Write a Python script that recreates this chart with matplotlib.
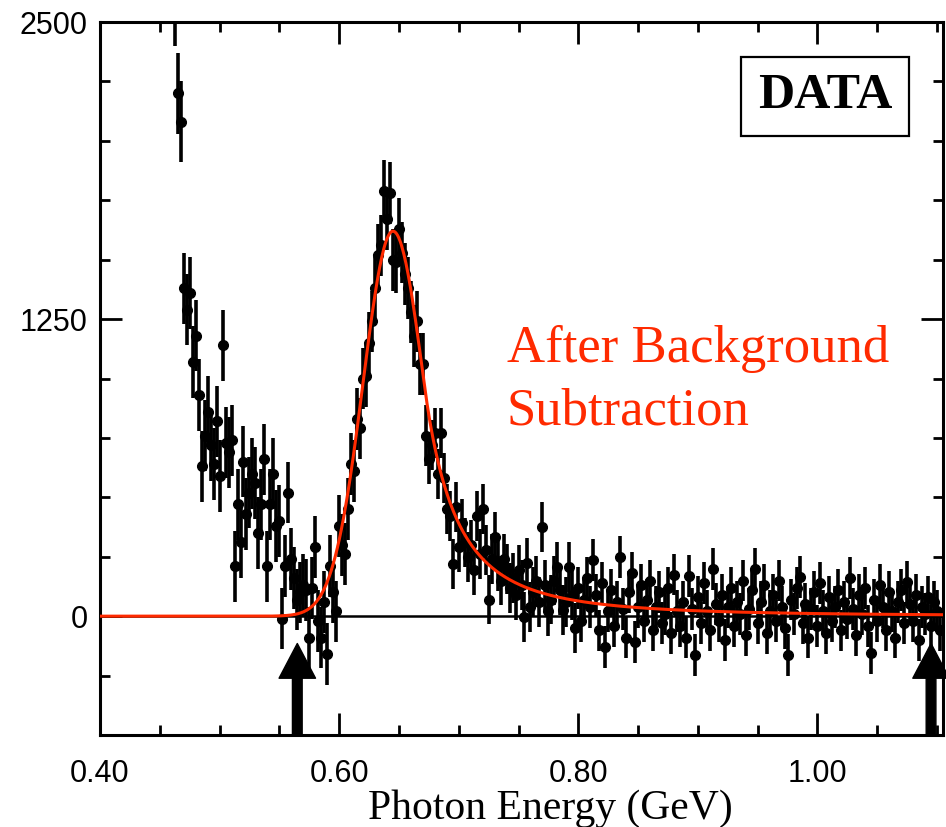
import numpy as np
import matplotlib
matplotlib.use("Agg")
import matplotlib.pyplot as plt
from matplotlib.ticker import MultipleLocator, FixedLocator

# bin centres (2.5 MeV bins)
x_start = 0.4625
x_step = 0.0025

# background-subtracted counts per bin
counts = [
    2650, 2200, 2080, 1380, 1290, 1360, 1070, 1180, 930, 630,
    760, 860, 720, 640, 820, 590, 1140, 730, 690, 740,
    210, 470, 310, 650, 430, 520, 600, 560, 350, 470,
    660, 210, 470, 600, 380, 400, -10, 210, 520, 240,
    160, 70, 100, 130, 110, -90, 120, 290, -20, -90,
    60, -160, 210, 100, 20, 380,
    300, 260, 450, 640, 610, 830, 790, 1000, 1010, 1150,
    1240, 1380, 1520, 1560, 1790, 1670, 1780, 1500, 1490, 1630,
    1530, 1440, 1380, 1280, 1180, 1240, 1060, 1060, 760, 660,
    720, 770, 600, 770, 580, 450, 420, 220, 460, 290,
    390, 310, 250, 300, 195, 420, 260, 450, 280, 70,
    240, 335, 210, 150, 240, 200, 120, 160, 90, 195,
    130, -5, 225, 40, 100, 150, 60, 375, 130, 20,
    70, 150, 205, 110, 25, 60, 205, 90, -50,
    120, -20, 70, 160, 40, 235, 90, -60, 140, -130,
    20, 110, -40, 60, 250, 30, -90, 100, 180, -110,
    40, 130, -20, 70, 150, -60, 40, 100, -30, 10,
    120, -70, 175, 20, -40, 60, -90, 170, 30, -165,
    80, -30, 140, 20, -60, 200, 50, -20, 90, -100,
    40, 120, -40, 60, 10, 150, -80, 30, 110, 200,
    -30, 60, 130, -70, 20, 90, -20, 150, 40, -50,
    -165, 70, 10, 120, 165, -30, 50, -90, 30, 100,
    -40, 140, 20, -70, 80, -20, 40, 110, -60, 60,
    -10, 160, 30, -80, 90, 10, 120, -40, -155, 70,
    -20, 130, 40, -60, 100, 20, -90, 60, 110, -30,
    145, 50, -20, 90, -100, 40, 10, 80, -40, 60,
    20, -60,
]

errors = [250] + [170] * 2 + [150] * 33 + [130] * 20 + [130] * 29 + [105] * 50 + [88] * 122

# fit parameters (asymmetric Gaussian core with power-law high-energy tail)
peak_pos = 0.645
peak_height = 1620
sigma_left = 0.025
sigma_right = 0.026
tail_alpha = 1.0
tail_n = 2.5

arrow_positions = [0.565, 1.095]

x = x_start + x_step * np.arange(len(counts))
y = np.array(counts, dtype=float)
yerr = np.array(errors, dtype=float)


def fit_curve(e):
    d = e - peak_pos
    out = np.empty_like(e)
    left = d < 0
    out[left] = np.exp(-0.5 * (d[left] / sigma_left) ** 2)
    t = d[~left] / sigma_right
    core = np.exp(-0.5 * t ** 2)
    a, n = tail_alpha, tail_n
    amp = (n / a) ** n * np.exp(-0.5 * a * a)
    tail = amp * (n / a - a + t) ** (-n)
    out[~left] = np.where(t < a, core, tail)
    return peak_height * out


red = "#ff2a00"

fig = plt.figure(figsize=(9.46, 8.27), dpi=100)
ax = fig.add_axes([100 / 946, 1 - 735 / 827, 843 / 946, 713 / 827])

ax.axhline(0, color="black", lw=1.8, zorder=1)
ax.errorbar(x, y, yerr=yerr, fmt="o", color="black", ms=7, elinewidth=2.6,
            capsize=0, zorder=2)

xf = np.linspace(0.40, 1.105, 800)
ax.plot(xf, fit_curve(xf), color=red, lw=2.2, zorder=3)

for xa in arrow_positions:
    ax.annotate("", xy=(xa, -115), xytext=(xa, -500),
                arrowprops=dict(arrowstyle="simple,head_length=1.0,head_width=1.05,tail_width=0.28",
                                color="black", mutation_scale=25, shrinkA=0, shrinkB=0),
                annotation_clip=False, zorder=4)

ax.set_xlim(0.40, 1.105)
ax.set_ylim(-500, 2500)

ax.xaxis.set_major_locator(FixedLocator([0.40, 0.60, 0.80, 1.00]))
ax.xaxis.set_minor_locator(MultipleLocator(0.05))
ax.set_xticklabels(["0.40", "0.60", "0.80", "1.00"])
ax.yaxis.set_major_locator(FixedLocator([0, 1250, 2500]))
ax.yaxis.set_minor_locator(MultipleLocator(250))
ax.set_yticklabels(["0", "1250", "2500"])

ax.tick_params(which="both", direction="in", top=True, right=True, width=2.0)
ax.tick_params(which="major", length=16)
ax.tick_params(which="minor", length=7)
ax.tick_params(axis="x", which="major", pad=17, labelsize=22)
ax.tick_params(axis="y", which="major", pad=9, labelsize=22)
for lab in ax.get_xticklabels() + ax.get_yticklabels():
    lab.set_family("Liberation Sans")
for s in ax.spines.values():
    s.set_linewidth(2.2)

fig.text(550 / 946, 1 - 809 / 827, "Photon Energy (GeV)", family="Liberation Serif",
         fontsize=30, ha="center", va="center")

fig.text(507 / 946, 1 - 380 / 827, "After Background\nSubtraction",
         family="Liberation Serif", fontsize=38, color=red, ha="left", va="center",
         linespacing=1.4)

fig.text(825 / 946, 1 - 96 / 827, "DATA", family="Liberation Serif", fontweight="bold",
         fontsize=36, ha="center", va="center",
         bbox=dict(boxstyle="square,pad=0.33", fc="white", ec="black", lw=1.6))

fig.savefig("out.png", dpi=100)
